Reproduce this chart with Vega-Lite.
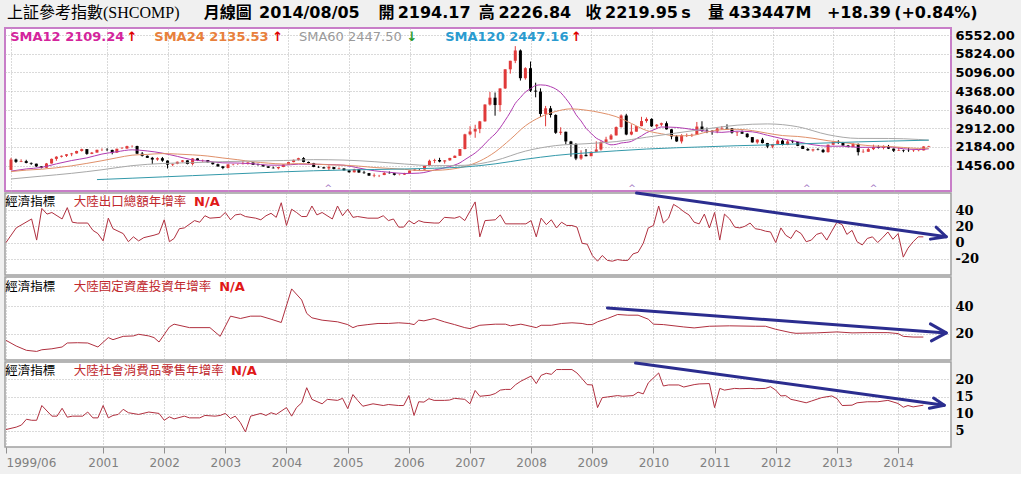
{
"$schema":"https://vega.github.io/schema/vega-lite/v6.json",
"background":"#f0f0f0",
"padding":{"left":3,"top":4,"right":5,"bottom":5},
"spacing":2,
"bounds":"flush",
"config":{"font":"DejaVu Sans","axis":{"gridColor":"#b4b4b4","gridDash":[1,2],"gridWidth":1,"domain":false,"ticks":false},"view":{"fill":"#ffffff","stroke":"#a0a0a0","strokeWidth":1.5}},
"datasets":{
"k":[
{"d":"1999-06","o":1283,"h":1756,"l":1281,"c":1690},{"d":"1999-07","o":1690,"h":1725,"l":1558,"c":1601},{"d":"1999-08","o":1601,"h":1700,"l":1589,"c":1627},{"d":"1999-09","o":1627,"h":1680,"l":1540,"c":1557},{"d":"1999-10","o":1557,"h":1575,"l":1480,"c":1527},{"d":"1999-11","o":1527,"h":1530,"l":1400,"c":1422},{"d":"1999-12","o":1422,"h":1425,"l":1341,"c":1367},
{"d":"2000-01","o":1367,"h":1555,"l":1361,"c":1535},{"d":"2000-02","o":1535,"h":1730,"l":1530,"c":1715},{"d":"2000-03","o":1715,"h":1820,"l":1640,"c":1800},{"d":"2000-04","o":1800,"h":1850,"l":1770,"c":1836},{"d":"2000-05","o":1836,"h":1900,"l":1790,"c":1895},{"d":"2000-06","o":1895,"h":1950,"l":1820,"c":1928},{"d":"2000-07","o":1928,"h":2035,"l":1920,"c":2023},{"d":"2000-08","o":2023,"h":2114,"l":2000,"c":2097},{"d":"2000-09","o":2097,"h":2100,"l":1874,"c":1911},{"d":"2000-10","o":1911,"h":1985,"l":1900,"c":1961},{"d":"2000-11","o":1961,"h":2075,"l":1960,"c":2070},{"d":"2000-12","o":2070,"h":2125,"l":2020,"c":2073},
{"d":"2001-01","o":2073,"h":2132,"l":2020,"c":2065},{"d":"2001-02","o":2065,"h":2075,"l":1893,"c":1960},{"d":"2001-03","o":1960,"h":2112,"l":1950,"c":2112},{"d":"2001-04","o":2112,"h":2180,"l":2100,"c":2120},{"d":"2001-05","o":2120,"h":2230,"l":2110,"c":2214},{"d":"2001-06","o":2214,"h":2245,"l":2170,"c":2218},{"d":"2001-07","o":2218,"h":2230,"l":1900,"c":1920},{"d":"2001-08","o":1920,"h":1985,"l":1806,"c":1834},{"d":"2001-09","o":1834,"h":1850,"l":1750,"c":1756},{"d":"2001-10","o":1756,"h":1792,"l":1514,"c":1689},{"d":"2001-11","o":1689,"h":1776,"l":1640,"c":1742},{"d":"2001-12","o":1742,"h":1790,"l":1600,"c":1646},
{"d":"2002-01","o":1646,"h":1660,"l":1339,"c":1491},{"d":"2002-02","o":1491,"h":1530,"l":1430,"c":1524},{"d":"2002-03","o":1524,"h":1610,"l":1505,"c":1603},{"d":"2002-04","o":1603,"h":1670,"l":1570,"c":1656},{"d":"2002-05","o":1656,"h":1660,"l":1500,"c":1515},{"d":"2002-06","o":1515,"h":1748,"l":1460,"c":1732},{"d":"2002-07","o":1732,"h":1740,"l":1630,"c":1663},{"d":"2002-08","o":1663,"h":1690,"l":1600,"c":1668},{"d":"2002-09","o":1668,"h":1672,"l":1570,"c":1581},{"d":"2002-10","o":1581,"h":1590,"l":1490,"c":1507},{"d":"2002-11","o":1507,"h":1530,"l":1410,"c":1421},{"d":"2002-12","o":1421,"h":1440,"l":1311,"c":1358},
{"d":"2003-01","o":1358,"h":1500,"l":1340,"c":1500},{"d":"2003-02","o":1500,"h":1520,"l":1460,"c":1511},{"d":"2003-03","o":1511,"h":1530,"l":1480,"c":1511},{"d":"2003-04","o":1511,"h":1650,"l":1500,"c":1521},{"d":"2003-05","o":1521,"h":1580,"l":1490,"c":1576},{"d":"2003-06","o":1576,"h":1580,"l":1480,"c":1487},{"d":"2003-07","o":1487,"h":1530,"l":1450,"c":1477},{"d":"2003-08","o":1477,"h":1490,"l":1410,"c":1421},{"d":"2003-09","o":1421,"h":1430,"l":1360,"c":1367},{"d":"2003-10","o":1367,"h":1410,"l":1340,"c":1349},{"d":"2003-11","o":1349,"h":1400,"l":1307,"c":1398},{"d":"2003-12","o":1398,"h":1500,"l":1390,"c":1497},
{"d":"2004-01","o":1497,"h":1595,"l":1495,"c":1590},{"d":"2004-02","o":1590,"h":1690,"l":1580,"c":1675},{"d":"2004-03","o":1675,"h":1760,"l":1650,"c":1742},{"d":"2004-04","o":1742,"h":1783,"l":1580,"c":1595},{"d":"2004-05","o":1595,"h":1610,"l":1530,"c":1555},{"d":"2004-06","o":1555,"h":1560,"l":1390,"c":1400},{"d":"2004-07","o":1400,"h":1440,"l":1360,"c":1386},{"d":"2004-08","o":1386,"h":1400,"l":1340,"c":1342},{"d":"2004-09","o":1342,"h":1460,"l":1260,"c":1396},{"d":"2004-10","o":1396,"h":1400,"l":1300,"c":1320},{"d":"2004-11","o":1320,"h":1380,"l":1300,"c":1340},{"d":"2004-12","o":1340,"h":1345,"l":1259,"c":1266},
{"d":"2005-01","o":1266,"h":1270,"l":1180,"c":1191},{"d":"2005-02","o":1191,"h":1330,"l":1185,"c":1306},{"d":"2005-03","o":1306,"h":1310,"l":1170,"c":1181},{"d":"2005-04","o":1181,"h":1250,"l":1130,"c":1159},{"d":"2005-05","o":1159,"h":1165,"l":1050,"c":1060},{"d":"2005-06","o":1060,"h":1146,"l":998,"c":1080},{"d":"2005-07","o":1080,"h":1090,"l":1004,"c":1083},{"d":"2005-08","o":1083,"h":1200,"l":1080,"c":1162},{"d":"2005-09","o":1162,"h":1223,"l":1140,"c":1155},{"d":"2005-10","o":1155,"h":1160,"l":1067,"c":1092},{"d":"2005-11","o":1092,"h":1105,"l":1074,"c":1099},{"d":"2005-12","o":1099,"h":1170,"l":1090,"c":1161},
{"d":"2006-01","o":1161,"h":1260,"l":1160,"c":1258},{"d":"2006-02","o":1258,"h":1310,"l":1240,"c":1299},{"d":"2006-03","o":1299,"h":1310,"l":1260,"c":1298},{"d":"2006-04","o":1298,"h":1445,"l":1295,"c":1440},{"d":"2006-05","o":1440,"h":1685,"l":1430,"c":1641},{"d":"2006-06","o":1641,"h":1720,"l":1550,"c":1672},{"d":"2006-07","o":1672,"h":1757,"l":1580,"c":1612},{"d":"2006-08","o":1612,"h":1660,"l":1530,"c":1658},{"d":"2006-09","o":1658,"h":1755,"l":1640,"c":1752},{"d":"2006-10","o":1752,"h":1850,"l":1750,"c":1837},{"d":"2006-11","o":1837,"h":2100,"l":1830,"c":2099},{"d":"2006-12","o":2099,"h":2698,"l":2090,"c":2675},
{"d":"2007-01","o":2675,"h":2995,"l":2630,"c":2786},{"d":"2007-02","o":2786,"h":3050,"l":2541,"c":2881},{"d":"2007-03","o":2881,"h":3200,"l":2720,"c":3183},{"d":"2007-04","o":3183,"h":3850,"l":3170,"c":3841},{"d":"2007-05","o":3841,"h":4335,"l":3800,"c":4109},{"d":"2007-06","o":4109,"h":4312,"l":3404,"c":3820},{"d":"2007-07","o":3820,"h":4471,"l":3564,"c":4471},{"d":"2007-08","o":4471,"h":5219,"l":4450,"c":5219},{"d":"2007-09","o":5219,"h":5552,"l":5050,"c":5552},{"d":"2007-10","o":5552,"h":6124,"l":5460,"c":5955},{"d":"2007-11","o":5955,"h":5995,"l":4778,"c":4871},{"d":"2007-12","o":4871,"h":5300,"l":4813,"c":5262},
{"d":"2008-01","o":5262,"h":5522,"l":4330,"c":4383},{"d":"2008-02","o":4383,"h":4695,"l":4123,"c":4348},{"d":"2008-03","o":4348,"h":4473,"l":3358,"c":3473},{"d":"2008-04","o":3473,"h":3786,"l":2990,"c":3693},{"d":"2008-05","o":3693,"h":3786,"l":3333,"c":3433},{"d":"2008-06","o":3433,"h":3459,"l":2693,"c":2736},{"d":"2008-07","o":2736,"h":2952,"l":2654,"c":2776},{"d":"2008-08","o":2776,"h":2781,"l":2284,"c":2397},{"d":"2008-09","o":2397,"h":2420,"l":1802,"c":2293},{"d":"2008-10","o":2293,"h":2333,"l":1665,"c":1729},{"d":"2008-11","o":1729,"h":2051,"l":1678,"c":1872},{"d":"2008-12","o":1872,"h":2100,"l":1814,"c":1821},
{"d":"2009-01","o":1821,"h":2003,"l":1814,"c":1991},{"d":"2009-02","o":1991,"h":2402,"l":1990,"c":2082},{"d":"2009-03","o":2082,"h":2403,"l":2037,"c":2373},{"d":"2009-04","o":2373,"h":2580,"l":2340,"c":2477},{"d":"2009-05","o":2477,"h":2689,"l":2460,"c":2633},{"d":"2009-06","o":2633,"h":2983,"l":2630,"c":2959},{"d":"2009-07","o":2959,"h":3455,"l":2940,"c":3412},{"d":"2009-08","o":3412,"h":3478,"l":2639,"c":2668},{"d":"2009-09","o":2668,"h":3068,"l":2639,"c":2779},{"d":"2009-10","o":2779,"h":3000,"l":2780,"c":2996},{"d":"2009-11","o":2996,"h":3361,"l":2990,"c":3195},{"d":"2009-12","o":3195,"h":3338,"l":3130,"c":3277},
{"d":"2010-01","o":3277,"h":3306,"l":2963,"c":2989},{"d":"2010-02","o":2989,"h":3080,"l":2890,"c":3052},{"d":"2010-03","o":3052,"h":3133,"l":2990,"c":3110},{"d":"2010-04","o":3110,"h":3181,"l":2861,"c":2871},{"d":"2010-05","o":2871,"h":2880,"l":2481,"c":2593},{"d":"2010-06","o":2593,"h":2640,"l":2382,"c":2398},{"d":"2010-07","o":2398,"h":2680,"l":2319,"c":2638},{"d":"2010-08","o":2638,"h":2705,"l":2570,"c":2639},{"d":"2010-09","o":2639,"h":2700,"l":2573,"c":2656},{"d":"2010-10","o":2656,"h":3159,"l":2650,"c":2979},{"d":"2010-11","o":2979,"h":3186,"l":2772,"c":2820},{"d":"2010-12","o":2820,"h":2940,"l":2722,"c":2808},
{"d":"2011-01","o":2808,"h":2840,"l":2661,"c":2791},{"d":"2011-02","o":2791,"h":2945,"l":2720,"c":2906},{"d":"2011-03","o":2906,"h":3000,"l":2850,"c":2928},{"d":"2011-04","o":2928,"h":3067,"l":2890,"c":2912},{"d":"2011-05","o":2912,"h":2920,"l":2700,"c":2743},{"d":"2011-06","o":2743,"h":2788,"l":2610,"c":2762},{"d":"2011-07","o":2762,"h":2827,"l":2690,"c":2701},{"d":"2011-08","o":2701,"h":2720,"l":2540,"c":2568},{"d":"2011-09","o":2568,"h":2570,"l":2355,"c":2359},{"d":"2011-10","o":2359,"h":2478,"l":2307,"c":2469},{"d":"2011-11","o":2469,"h":2536,"l":2320,"c":2333},{"d":"2011-12","o":2333,"h":2340,"l":2134,"c":2199},
{"d":"2012-01","o":2199,"h":2300,"l":2132,"c":2292},{"d":"2012-02","o":2292,"h":2478,"l":2280,"c":2428},{"d":"2012-03","o":2428,"h":2478,"l":2242,"c":2263},{"d":"2012-04","o":2263,"h":2453,"l":2250,"c":2397},{"d":"2012-05","o":2397,"h":2461,"l":2331,"c":2373},{"d":"2012-06","o":2373,"h":2390,"l":2213,"c":2225},{"d":"2012-07","o":2225,"h":2230,"l":2100,"c":2103},{"d":"2012-08","o":2103,"h":2140,"l":2030,"c":2048},{"d":"2012-09","o":2048,"h":2110,"l":2000,"c":2086},{"d":"2012-10","o":2086,"h":2130,"l":2050,"c":2069},{"d":"2012-11","o":2069,"h":2110,"l":1949,"c":1980},{"d":"2012-12","o":1980,"h":2276,"l":1960,"c":2269},
{"d":"2013-01","o":2269,"h":2400,"l":2260,"c":2385},{"d":"2013-02","o":2385,"h":2444,"l":2300,"c":2366},{"d":"2013-03","o":2366,"h":2380,"l":2234,"c":2237},{"d":"2013-04","o":2237,"h":2260,"l":2163,"c":2178},{"d":"2013-05","o":2178,"h":2334,"l":2170,"c":2301},{"d":"2013-06","o":2301,"h":2314,"l":1849,"c":1979},{"d":"2013-07","o":1979,"h":2093,"l":1951,"c":1994},{"d":"2013-08","o":1994,"h":2150,"l":1990,"c":2098},{"d":"2013-09","o":2098,"h":2270,"l":2060,"c":2175},{"d":"2013-10","o":2175,"h":2242,"l":2120,"c":2142},{"d":"2013-11","o":2142,"h":2243,"l":2088,"c":2221},{"d":"2013-12","o":2221,"h":2260,"l":2100,"c":2116},
{"d":"2014-01","o":2116,"h":2120,"l":1984,"c":2033},{"d":"2014-02","o":2033,"h":2177,"l":2025,"c":2056},{"d":"2014-03","o":2056,"h":2080,"l":1975,"c":2033},{"d":"2014-04","o":2033,"h":2147,"l":1990,"c":2026},{"d":"2014-05","o":2026,"h":2062,"l":1990,"c":2039},{"d":"2014-06","o":2039,"h":2070,"l":2010,"c":2048},{"d":"2014-07","o":2048,"h":2210,"l":2044,"c":2201},{"d":"2014-08","o":2194,"h":2227,"l":2185,"c":2220}
],
"sma":[
{"d":"1999-06","s":"SMA12","v":1237},{"d":"1999-09","s":"SMA12","v":1322},{"d":"1999-12","s":"SMA12","v":1381},{"d":"2000-03","s":"SMA12","v":1520},{"d":"2000-06","s":"SMA12","v":1651},{"d":"2000-09","s":"SMA12","v":1755},{"d":"2000-12","s":"SMA12","v":1904},{"d":"2001-03","s":"SMA12","v":1994},{"d":"2001-06","s":"SMA12","v":2069},{"d":"2001-09","s":"SMA12","v":2025},{"d":"2001-12","s":"SMA12","v":1940},{"d":"2002-03","s":"SMA12","v":1813},{"d":"2002-06","s":"SMA12","v":1676},{"d":"2002-09","s":"SMA12","v":1626},{"d":"2002-12","s":"SMA12","v":1560},{"d":"2003-03","s":"SMA12","v":1552},{"d":"2003-06","s":"SMA12","v":1525},{"d":"2003-09","s":"SMA12","v":1471},{"d":"2003-12","s":"SMA12","v":1468},{"d":"2004-03","s":"SMA12","v":1508},{"d":"2004-06","s":"SMA12","v":1506},{"d":"2004-09","s":"SMA12","v":1494},{"d":"2004-12","s":"SMA12","v":1467},{"d":"2005-03","s":"SMA12","v":1357},{"d":"2005-06","s":"SMA12","v":1252},{"d":"2005-09","s":"SMA12","v":1192},{"d":"2005-12","s":"SMA12","v":1144},{"d":"2006-03","s":"SMA12","v":1159},{"d":"2006-06","s":"SMA12","v":1280},{"d":"2006-09","s":"SMA12","v":1415},{"d":"2006-10","s":"SMA12","v":1477},{"d":"2006-11","s":"SMA12","v":1561},{"d":"2006-12","s":"SMA12","v":1687},{"d":"2007-01","s":"SMA12","v":1814},{"d":"2007-02","s":"SMA12","v":1946},{"d":"2007-03","s":"SMA12","v":2103},{"d":"2007-04","s":"SMA12","v":2303},{"d":"2007-05","s":"SMA12","v":2509},{"d":"2007-06","s":"SMA12","v":2688},{"d":"2007-07","s":"SMA12","v":2926},{"d":"2007-08","s":"SMA12","v":3223},{"d":"2007-09","s":"SMA12","v":3539},{"d":"2007-10","s":"SMA12","v":3883},{"d":"2007-11","s":"SMA12","v":4114},{"d":"2007-12","s":"SMA12","v":4329},{"d":"2008-01","s":"SMA12","v":4462},{"d":"2008-02","s":"SMA12","v":4585},{"d":"2008-03","s":"SMA12","v":4609},{"d":"2008-04","s":"SMA12","v":4596},{"d":"2008-05","s":"SMA12","v":4540},{"d":"2008-06","s":"SMA12","v":4450},{"d":"2008-07","s":"SMA12","v":4308},{"d":"2008-08","s":"SMA12","v":4073},{"d":"2008-09","s":"SMA12","v":3802},{"d":"2008-10","s":"SMA12","v":3450},{"d":"2008-11","s":"SMA12","v":3200},{"d":"2008-12","s":"SMA12","v":2913},{"d":"2009-01","s":"SMA12","v":2714},{"d":"2009-02","s":"SMA12","v":2525},{"d":"2009-03","s":"SMA12","v":2433},{"d":"2009-04","s":"SMA12","v":2332},{"d":"2009-05","s":"SMA12","v":2265},{"d":"2009-06","s":"SMA12","v":2284},{"d":"2009-07","s":"SMA12","v":2337},{"d":"2009-08","s":"SMA12","v":2359},{"d":"2009-09","s":"SMA12","v":2400},{"d":"2009-10","s":"SMA12","v":2505},{"d":"2009-11","s":"SMA12","v":2616},{"d":"2009-12","s":"SMA12","v":2737},{"d":"2010-01","s":"SMA12","v":2820},{"d":"2010-02","s":"SMA12","v":2901},{"d":"2010-03","s":"SMA12","v":2962},{"d":"2010-06","s":"SMA12","v":2945},{"d":"2010-09","s":"SMA12","v":2868},{"d":"2010-12","s":"SMA12","v":2796},{"d":"2011-03","s":"SMA12","v":2752},{"d":"2011-06","s":"SMA12","v":2799},{"d":"2011-09","s":"SMA12","v":2773},{"d":"2011-12","s":"SMA12","v":2639},{"d":"2012-03","s":"SMA12","v":2502},{"d":"2012-06","s":"SMA12","v":2384},{"d":"2012-09","s":"SMA12","v":2268},{"d":"2012-12","s":"SMA12","v":2211},{"d":"2013-03","s":"SMA12","v":2212},{"d":"2013-06","s":"SMA12","v":2167},{"d":"2013-09","s":"SMA12","v":2169},{"d":"2013-12","s":"SMA12","v":2183},{"d":"2014-03","s":"SMA12","v":2111},{"d":"2014-06","s":"SMA12","v":2082},{"d":"2014-08","s":"SMA12","v":2109},
{"d":"1999-06","s":"SMA24","v":1219},{"d":"1999-09","s":"SMA24","v":1276},{"d":"1999-12","s":"SMA24","v":1310},{"d":"2000-03","s":"SMA24","v":1367},{"d":"2000-06","s":"SMA24","v":1444},{"d":"2000-09","s":"SMA24","v":1539},{"d":"2000-12","s":"SMA24","v":1643},{"d":"2001-03","s":"SMA24","v":1757},{"d":"2001-06","s":"SMA24","v":1860},{"d":"2001-09","s":"SMA24","v":1890},{"d":"2001-12","s":"SMA24","v":1922},{"d":"2002-03","s":"SMA24","v":1904},{"d":"2002-06","s":"SMA24","v":1873},{"d":"2002-09","s":"SMA24","v":1826},{"d":"2002-12","s":"SMA24","v":1750},{"d":"2003-03","s":"SMA24","v":1683},{"d":"2003-06","s":"SMA24","v":1601},{"d":"2003-09","s":"SMA24","v":1549},{"d":"2003-12","s":"SMA24","v":1514},{"d":"2004-03","s":"SMA24","v":1530},{"d":"2004-06","s":"SMA24","v":1516},{"d":"2004-09","s":"SMA24","v":1483},{"d":"2004-12","s":"SMA24","v":1468},{"d":"2005-03","s":"SMA24","v":1433},{"d":"2005-06","s":"SMA24","v":1379},{"d":"2005-09","s":"SMA24","v":1343},{"d":"2005-12","s":"SMA24","v":1306},{"d":"2006-03","s":"SMA24","v":1258},{"d":"2006-06","s":"SMA24","v":1266},{"d":"2006-09","s":"SMA24","v":1304},{"d":"2006-12","s":"SMA24","v":1416},{"d":"2007-03","s":"SMA24","v":1631},{"d":"2007-06","s":"SMA24","v":1984},{"d":"2007-09","s":"SMA24","v":2477},{"d":"2007-12","s":"SMA24","v":3008},{"d":"2008-03","s":"SMA24","v":3356},{"d":"2008-06","s":"SMA24","v":3569},{"d":"2008-09","s":"SMA24","v":3671},{"d":"2008-12","s":"SMA24","v":3621},{"d":"2009-03","s":"SMA24","v":3521},{"d":"2009-06","s":"SMA24","v":3367},{"d":"2009-09","s":"SMA24","v":3101},{"d":"2009-12","s":"SMA24","v":2825},{"d":"2010-03","s":"SMA24","v":2698},{"d":"2010-06","s":"SMA24","v":2615},{"d":"2010-09","s":"SMA24","v":2634},{"d":"2010-12","s":"SMA24","v":2767},{"d":"2011-03","s":"SMA24","v":2857},{"d":"2011-06","s":"SMA24","v":2872},{"d":"2011-09","s":"SMA24","v":2821},{"d":"2011-12","s":"SMA24","v":2718},{"d":"2012-03","s":"SMA24","v":2627},{"d":"2012-06","s":"SMA24","v":2592},{"d":"2012-09","s":"SMA24","v":2521},{"d":"2012-12","s":"SMA24","v":2425},{"d":"2013-03","s":"SMA24","v":2357},{"d":"2013-06","s":"SMA24","v":2276},{"d":"2013-09","s":"SMA24","v":2219},{"d":"2013-12","s":"SMA24","v":2197},{"d":"2014-03","s":"SMA24","v":2162},{"d":"2014-06","s":"SMA24","v":2125},{"d":"2014-08","s":"SMA24","v":2136},
{"d":"1999-06","s":"SMA60","v":930},{"d":"1999-12","s":"SMA60","v":1040},{"d":"2000-06","s":"SMA60","v":1150},{"d":"2000-12","s":"SMA60","v":1290},{"d":"2001-06","s":"SMA60","v":1451},{"d":"2001-12","s":"SMA60","v":1535},{"d":"2002-06","s":"SMA60","v":1567},{"d":"2002-12","s":"SMA60","v":1607},{"d":"2003-06","s":"SMA60","v":1632},{"d":"2003-12","s":"SMA60","v":1651},{"d":"2004-06","s":"SMA60","v":1685},{"d":"2004-12","s":"SMA60","v":1668},{"d":"2005-06","s":"SMA60","v":1606},{"d":"2005-12","s":"SMA60","v":1516},{"d":"2006-06","s":"SMA60","v":1448},{"d":"2006-12","s":"SMA60","v":1465},{"d":"2007-06","s":"SMA60","v":1650},{"d":"2007-12","s":"SMA60","v":2019},{"d":"2008-06","s":"SMA60","v":2235},{"d":"2008-12","s":"SMA60","v":2308},{"d":"2009-06","s":"SMA60","v":2391},{"d":"2009-12","s":"SMA60","v":2562},{"d":"2010-06","s":"SMA60","v":2729},{"d":"2010-12","s":"SMA60","v":2892},{"d":"2011-06","s":"SMA60","v":3033},{"d":"2011-12","s":"SMA60","v":3083},{"d":"2012-06","s":"SMA60","v":2972},{"d":"2012-12","s":"SMA60","v":2659},{"d":"2013-06","s":"SMA60","v":2516},{"d":"2013-12","s":"SMA60","v":2513},{"d":"2014-06","s":"SMA60","v":2475},{"d":"2014-08","s":"SMA60","v":2448},
{"d":"2000-11","s":"SMA120","v":905},{"d":"2001-06","s":"SMA120","v":960},{"d":"2001-12","s":"SMA120","v":1010},{"d":"2002-06","s":"SMA120","v":1060},{"d":"2002-12","s":"SMA120","v":1110},{"d":"2003-06","s":"SMA120","v":1160},{"d":"2003-12","s":"SMA120","v":1210},{"d":"2004-06","s":"SMA120","v":1250},{"d":"2004-12","s":"SMA120","v":1280},{"d":"2005-06","s":"SMA120","v":1300},{"d":"2005-12","s":"SMA120","v":1320},{"d":"2006-06","s":"SMA120","v":1350},{"d":"2006-12","s":"SMA120","v":1400},{"d":"2007-06","s":"SMA120","v":1520},{"d":"2007-12","s":"SMA120","v":1700},{"d":"2008-06","s":"SMA120","v":1850},{"d":"2008-12","s":"SMA120","v":1950},{"d":"2009-06","s":"SMA120","v":2030},{"d":"2009-12","s":"SMA120","v":2100},{"d":"2010-06","s":"SMA120","v":2150},{"d":"2010-12","s":"SMA120","v":2190},{"d":"2011-06","s":"SMA120","v":2230},{"d":"2011-12","s":"SMA120","v":2260},{"d":"2012-06","s":"SMA120","v":2300},{"d":"2012-12","s":"SMA120","v":2340},{"d":"2013-06","s":"SMA120","v":2380},{"d":"2013-12","s":"SMA120","v":2410},{"d":"2014-08","s":"SMA120","v":2447}
],
"smaLab":[{"s":"SMA12","t":"SMA12 2109.24","d":"1999-05-27","v":6482},{"s":"SMA24","t":"SMA24 2135.53","d":"2001-10-13","v":6482},{"s":"SMA60","t":"SMA60 2447.50","d":"2004-03-04","v":6482},{"s":"SMA120","t":"SMA120 2447.16","d":"2006-08-04","v":6482}],
"smaArr":[{"dir":"up","t":"↑","d":"2001-04-28","v":6482},{"dir":"up","t":"↑","d":"2003-09-25","v":6482},{"dir":"down","t":"↓","d":"2005-12-13","v":6482},{"dir":"up","t":"↑","d":"2008-09-01","v":6482}],
"hdr1":[{"t":"上証參考指數(SHCOMP)","d":"1999-05-08","v":7420}],
"hdr2":[{"t":"月線圖","d":"2002-08-07","v":7420},{"t":"2014/08/05","d":"2003-07-07","v":7420},{"t":"開","d":"2005-06-28","v":7420},{"t":"2194.17","d":"2005-10-21","v":7420},{"t":"高","d":"2007-02-23","v":7420},{"t":"2226.84","d":"2007-06-21","v":7420},{"t":"收","d":"2008-11-28","v":7420},{"t":"2219.95","d":"2009-03-26","v":7420},{"t":"s","d":"2010-06-29","v":7420},{"t":"量","d":"2010-12-08","v":7420},{"t":"433447M","d":"2011-04-11","v":7420},{"t":"+18.39","d":"2012-11-24","v":7420},{"t":"(+0.84%)","d":"2014-01-04","v":7420}],
"mk":[{"d":"2004-08-28","v":560},{"d":"2009-09-04","v":560},{"d":"2012-07-25","v":560},{"d":"2013-09-01","v":560}],
"labs":[{"p":2,"k":"cat","t":"經濟指標","d":"1999-05-27","v":50.3},{"p":2,"k":"name","t":"大陸出口總額年增率","d":"2000-07-10","v":50.3},{"p":2,"k":"na","t":"N/A","d":"2002-06-28","v":50.3},
{"p":3,"k":"cat","t":"經濟指標","d":"1999-05-27","v":54},{"p":3,"k":"name","t":"大陸固定資產投資年增率","d":"2000-07-10","v":54},{"p":3,"k":"na","t":"N/A","d":"2002-11-25","v":54},
{"p":4,"k":"cat","t":"經濟指標","d":"1999-05-27","v":22.5},{"p":4,"k":"name","t":"大陸社會消費品零售年增率","d":"2000-07-10","v":22.5},{"p":4,"k":"na","t":"N/A","d":"2003-02-04","v":22.5}],
"tr":[{"p":2,"seg":"a","d":"2009-09-22","v":61},{"p":2,"seg":"a","d":"2014-10-16","v":7.1},{"p":2,"seg":"b","d":"2014-08-16","v":19},{"p":2,"seg":"b","d":"2014-10-16","v":7.1},{"p":2,"seg":"b","d":"2014-07-13","v":4.2},
{"p":3,"seg":"a","d":"2009-04-01","v":38.6},{"p":3,"seg":"a","d":"2014-10-16","v":20.6},{"p":3,"seg":"b","d":"2014-07-13","v":27.1},{"p":3,"seg":"b","d":"2014-10-16","v":20.6},{"p":3,"seg":"b","d":"2014-07-19","v":14.8},
{"p":4,"seg":"a","d":"2009-09-16","v":24.8},{"p":4,"seg":"a","d":"2014-10-04","v":12.5},{"p":4,"seg":"b","d":"2014-08-01","v":14.6},{"p":4,"seg":"b","d":"2014-10-04","v":12.5},{"p":4,"seg":"b","d":"2014-07-07","v":11.6}],
"exp":[{"d":"1999-06","v":0},{"d":"1999-08","v":18},{"d":"1999-11","v":29},{"d":"1999-12","v":3},{"d":"2000-01","v":42},{"d":"2000-02","v":35},{"d":"2000-03","v":37},{"d":"2000-05","v":29},{"d":"2000-06","v":43},{"d":"2000-07","v":25},{"d":"2000-08","v":24},{"d":"2000-10","v":24},{"d":"2000-11","v":15},{"d":"2000-12","v":11},{"d":"2001-01","v":2},{"d":"2001-02","v":30},{"d":"2001-03","v":17},{"d":"2001-05","v":11},{"d":"2001-06","v":1},{"d":"2001-07","v":7},{"d":"2001-08","v":2},{"d":"2001-09","v":6},{"d":"2001-11","v":9},{"d":"2001-12","v":11},{"d":"2002-01","v":28},{"d":"2002-02","v":1},{"d":"2002-03","v":5},{"d":"2002-04","v":17},{"d":"2002-05","v":18},{"d":"2002-07","v":27},{"d":"2002-08","v":25},{"d":"2002-09","v":33},{"d":"2002-10","v":30},{"d":"2002-12","v":31},{"d":"2003-01","v":37},{"d":"2003-02","v":28},{"d":"2003-03","v":34},{"d":"2003-04","v":35},{"d":"2003-05","v":32},{"d":"2003-07","v":30},{"d":"2003-08","v":28},{"d":"2003-09","v":33},{"d":"2003-10","v":36},{"d":"2003-11","v":31},{"d":"2003-12","v":49},{"d":"2004-01","v":21},{"d":"2004-02","v":41},{"d":"2004-03","v":37},{"d":"2004-04","v":32},{"d":"2004-05","v":32},{"d":"2004-06","v":45},{"d":"2004-07","v":34},{"d":"2004-08","v":37},{"d":"2004-10","v":29},{"d":"2004-11","v":45},{"d":"2004-12","v":33},{"d":"2005-01","v":41},{"d":"2005-02","v":31},{"d":"2005-03","v":32},{"d":"2005-05","v":30},{"d":"2005-07","v":30},{"d":"2005-08","v":33},{"d":"2005-09","v":27},{"d":"2005-10","v":29},{"d":"2005-11","v":19},{"d":"2005-12","v":19},{"d":"2006-01","v":27},{"d":"2006-02","v":23},{"d":"2006-03","v":27},{"d":"2006-04","v":25},{"d":"2006-06","v":24},{"d":"2006-07","v":24},{"d":"2006-08","v":31},{"d":"2006-10","v":30},{"d":"2006-11","v":32},{"d":"2006-12","v":27},{"d":"2007-02","v":50},{"d":"2007-03","v":7},{"d":"2007-04","v":27},{"d":"2007-06","v":28},{"d":"2007-07","v":34},{"d":"2007-08","v":23},{"d":"2007-11","v":23},{"d":"2007-12","v":23},{"d":"2008-01","v":27},{"d":"2008-02","v":7},{"d":"2008-03","v":30},{"d":"2008-04","v":22},{"d":"2008-05","v":28},{"d":"2008-06","v":18},{"d":"2008-07","v":25},{"d":"2008-08","v":21},{"d":"2008-09","v":21},{"d":"2008-10","v":19},{"d":"2008-11","v":-1},{"d":"2008-12","v":-2},{"d":"2009-01","v":-16},{"d":"2009-02","v":-23},{"d":"2009-03","v":-16},{"d":"2009-04","v":-22},{"d":"2009-05","v":-23},{"d":"2009-06","v":-21},{"d":"2009-07","v":-22},{"d":"2009-08","v":-22},{"d":"2009-09","v":-14},{"d":"2009-10","v":-12},{"d":"2009-11","v":-1},{"d":"2009-12","v":18},{"d":"2010-01","v":21},{"d":"2010-02","v":45},{"d":"2010-03","v":24},{"d":"2010-04","v":30},{"d":"2010-05","v":47},{"d":"2010-06","v":43},{"d":"2010-07","v":38},{"d":"2010-08","v":34},{"d":"2010-09","v":25},{"d":"2010-10","v":23},{"d":"2010-11","v":35},{"d":"2010-12","v":18},{"d":"2011-01","v":37},{"d":"2011-02","v":3},{"d":"2011-03","v":35},{"d":"2011-04","v":29},{"d":"2011-05","v":19},{"d":"2011-06","v":18},{"d":"2011-07","v":20},{"d":"2011-08","v":24},{"d":"2011-09","v":17},{"d":"2011-10","v":16},{"d":"2011-11","v":14},{"d":"2011-12","v":13},{"d":"2012-01","v":0},{"d":"2012-02","v":18},{"d":"2012-03","v":9},{"d":"2012-04","v":5},{"d":"2012-05","v":15},{"d":"2012-06","v":11},{"d":"2012-07","v":1},{"d":"2012-08","v":3},{"d":"2012-09","v":10},{"d":"2012-10","v":12},{"d":"2012-11","v":3},{"d":"2012-12","v":14},{"d":"2013-01","v":25},{"d":"2013-02","v":22},{"d":"2013-03","v":10},{"d":"2013-04","v":15},{"d":"2013-05","v":1},{"d":"2013-06","v":-3},{"d":"2013-07","v":5},{"d":"2013-08","v":7},{"d":"2013-09","v":0},{"d":"2013-10","v":6},{"d":"2013-11","v":13},{"d":"2013-12","v":4},{"d":"2014-01","v":11},{"d":"2014-02","v":-18},{"d":"2014-03","v":-7},{"d":"2014-04","v":1},{"d":"2014-05","v":7},{"d":"2014-06","v":7}],
"fai":[{"d":"1999-06","v":15.2},{"d":"1999-08","v":11.1},{"d":"1999-10","v":8},{"d":"1999-12","v":7.2},{"d":"2000-01","v":8.4},{"d":"2000-03","v":9.1},{"d":"2000-05","v":10.4},{"d":"2000-06","v":13.3},{"d":"2000-08","v":13.5},{"d":"2000-10","v":13.3},{"d":"2000-12","v":10.4},{"d":"2001-02","v":17.2},{"d":"2001-03","v":15.7},{"d":"2001-05","v":18.1},{"d":"2001-07","v":18.4},{"d":"2001-08","v":19.6},{"d":"2001-10","v":18.4},{"d":"2001-11","v":17.2},{"d":"2001-12","v":14},{"d":"2002-02","v":24.9},{"d":"2002-03","v":26.9},{"d":"2002-06","v":24.4},{"d":"2002-10","v":24.4},{"d":"2002-12","v":18.1},{"d":"2003-02","v":32.7},{"d":"2003-04","v":31},{"d":"2003-06","v":32.7},{"d":"2003-08","v":32.7},{"d":"2003-10","v":30.5},{"d":"2003-12","v":28.1},{"d":"2004-02","v":52.4},{"d":"2004-04","v":44.4},{"d":"2004-05","v":34.7},{"d":"2004-06","v":31.5},{"d":"2004-08","v":29.8},{"d":"2004-11","v":28.6},{"d":"2005-01","v":26.6},{"d":"2005-02","v":24.4},{"d":"2005-03","v":25.7},{"d":"2005-05","v":26.6},{"d":"2005-07","v":27.4},{"d":"2005-09","v":27.4},{"d":"2005-11","v":27.9},{"d":"2006-01","v":27.4},{"d":"2006-02","v":26.6},{"d":"2006-03","v":29.8},{"d":"2006-04","v":29.3},{"d":"2006-06","v":31},{"d":"2006-08","v":28.6},{"d":"2006-10","v":26.6},{"d":"2006-12","v":24.4},{"d":"2007-01","v":23.7},{"d":"2007-03","v":26.1},{"d":"2007-06","v":26.9},{"d":"2007-08","v":26.9},{"d":"2007-09","v":25.7},{"d":"2007-11","v":26.9},{"d":"2007-12","v":26.1},{"d":"2008-02","v":24.4},{"d":"2008-03","v":26.1},{"d":"2008-05","v":26.1},{"d":"2008-07","v":27.4},{"d":"2008-09","v":27.9},{"d":"2008-11","v":27.4},{"d":"2008-12","v":26.6},{"d":"2009-01","v":26.6},{"d":"2009-02","v":28.6},{"d":"2009-04","v":31},{"d":"2009-06","v":33.9},{"d":"2009-08","v":33.4},{"d":"2009-10","v":33.4},{"d":"2009-12","v":30.5},{"d":"2010-01","v":26.9},{"d":"2010-03","v":26.6},{"d":"2010-07","v":24.9},{"d":"2010-09","v":24.2},{"d":"2010-12","v":25.4},{"d":"2011-04","v":25.7},{"d":"2011-09","v":25.4},{"d":"2011-11","v":25.4},{"d":"2012-01","v":23.2},{"d":"2012-04","v":20.8},{"d":"2012-05","v":20.3},{"d":"2012-09","v":20.6},{"d":"2013-01","v":21.3},{"d":"2013-04","v":20.6},{"d":"2013-07","v":20.8},{"d":"2013-11","v":20.8},{"d":"2014-01","v":20.1},{"d":"2014-02","v":18.1},{"d":"2014-04","v":17.6},{"d":"2014-06","v":17.6}],
"rs":[{"d":"1999-06","v":5.4},{"d":"1999-08","v":6.1},{"d":"1999-09","v":6.7},{"d":"1999-10","v":8.4},{"d":"1999-11","v":8.1},{"d":"1999-12","v":8.1},{"d":"2000-01","v":12.4},{"d":"2000-02","v":10.8},{"d":"2000-03","v":9.3},{"d":"2000-04","v":9.3},{"d":"2000-05","v":11.6},{"d":"2000-06","v":9.0},{"d":"2000-07","v":9.3},{"d":"2000-09","v":9.3},{"d":"2000-10","v":10.5},{"d":"2000-11","v":8.8},{"d":"2000-12","v":8.8},{"d":"2001-01","v":12.4},{"d":"2001-02","v":8.8},{"d":"2001-03","v":9.5},{"d":"2001-04","v":9.8},{"d":"2001-05","v":11.3},{"d":"2001-06","v":10.3},{"d":"2001-08","v":9.8},{"d":"2001-10","v":10.5},{"d":"2001-12","v":10.1},{"d":"2002-01","v":8.1},{"d":"2002-02","v":9.1},{"d":"2002-03","v":8.5},{"d":"2002-05","v":9.3},{"d":"2002-06","v":8.8},{"d":"2002-08","v":8.8},{"d":"2002-09","v":9.5},{"d":"2002-11","v":9.3},{"d":"2002-12","v":9.5},{"d":"2003-01","v":10.1},{"d":"2003-02","v":8.6},{"d":"2003-03","v":9.3},{"d":"2003-04","v":7.4},{"d":"2003-05","v":4.7},{"d":"2003-06","v":9.3},{"d":"2003-08","v":10.1},{"d":"2003-09","v":9.5},{"d":"2003-10","v":10.3},{"d":"2003-11","v":9.8},{"d":"2004-01","v":11.8},{"d":"2004-02","v":9.3},{"d":"2004-03","v":11.8},{"d":"2004-04","v":13.2},{"d":"2004-05","v":17.6},{"d":"2004-06","v":14.2},{"d":"2004-08","v":12.9},{"d":"2004-09","v":14.2},{"d":"2004-11","v":13.9},{"d":"2004-12","v":14.5},{"d":"2005-01","v":11.5},{"d":"2005-02","v":15.6},{"d":"2005-03","v":13.9},{"d":"2005-04","v":12.2},{"d":"2005-06","v":12.9},{"d":"2005-08","v":12.4},{"d":"2005-09","v":12.7},{"d":"2005-11","v":12.4},{"d":"2005-12","v":12.4},{"d":"2006-01","v":15.3},{"d":"2006-02","v":9.5},{"d":"2006-03","v":13.5},{"d":"2006-04","v":13.4},{"d":"2006-05","v":14.4},{"d":"2006-06","v":13.9},{"d":"2006-08","v":13.9},{"d":"2006-09","v":14.0},{"d":"2006-10","v":14.5},{"d":"2006-12","v":14.2},{"d":"2007-01","v":12.9},{"d":"2007-02","v":16.8},{"d":"2007-03","v":15.1},{"d":"2007-05","v":15.4},{"d":"2007-06","v":15.9},{"d":"2007-07","v":16.9},{"d":"2007-08","v":17.1},{"d":"2007-09","v":17.1},{"d":"2007-10","v":18.5},{"d":"2007-11","v":19.5},{"d":"2008-01","v":21.0},{"d":"2008-02","v":18.8},{"d":"2008-03","v":21.2},{"d":"2008-04","v":21.8},{"d":"2008-05","v":21.5},{"d":"2008-06","v":22.9},{"d":"2008-07","v":22.9},{"d":"2008-09","v":22.9},{"d":"2008-10","v":21.9},{"d":"2008-11","v":20.2},{"d":"2008-12","v":18.5},{"d":"2009-01","v":18.4},{"d":"2009-02","v":11.8},{"d":"2009-03","v":14.7},{"d":"2009-04","v":14.9},{"d":"2009-06","v":15.3},{"d":"2009-07","v":15.1},{"d":"2009-09","v":15.3},{"d":"2009-10","v":16.3},{"d":"2009-11","v":15.8},{"d":"2009-12","v":19.0},{"d":"2010-02","v":21.9},{"d":"2010-03","v":18.1},{"d":"2010-04","v":18.4},{"d":"2010-06","v":18.4},{"d":"2010-07","v":17.8},{"d":"2010-09","v":18.5},{"d":"2010-10","v":18.7},{"d":"2010-12","v":18.8},{"d":"2011-01","v":11.8},{"d":"2011-02","v":17.4},{"d":"2011-03","v":16.9},{"d":"2011-05","v":17.4},{"d":"2011-06","v":17.3},{"d":"2011-08","v":17.4},{"d":"2011-09","v":17.3},{"d":"2011-11","v":17.4},{"d":"2011-12","v":17.9},{"d":"2012-01","v":16.9},{"d":"2012-02","v":15.2},{"d":"2012-03","v":15.3},{"d":"2012-04","v":14.2},{"d":"2012-05","v":13.9},{"d":"2012-07","v":13.2},{"d":"2012-08","v":13.7},{"d":"2012-10","v":14.7},{"d":"2012-12","v":15.2},{"d":"2013-01","v":14.4},{"d":"2013-02","v":12.4},{"d":"2013-04","v":12.5},{"d":"2013-05","v":13.2},{"d":"2013-07","v":13.5},{"d":"2013-09","v":13.5},{"d":"2013-11","v":13.9},{"d":"2014-01","v":13.0},{"d":"2014-02","v":11.9},{"d":"2014-03","v":12.4},{"d":"2014-04","v":12.0},{"d":"2014-06","v":12.5}]
},
"vconcat":[
{"width":946,"height":163,
 "view":{"stroke":"#c87ec8","strokeWidth":2,"fill":"#ffffff"},
 "resolve":{"scale":{"color":"independent"}},
 "encoding":{
   "x":{"field":"d","type":"temporal","title":null,"scale":{"type":"utc","domain":[{"year":1999,"month":5,"date":26,"utc":true},{"year":2014,"month":11,"date":13,"utc":true}]},
        "axis":{"values":[{"year":1999,"month":6,"date":1,"utc":true},{"year":2001,"month":1,"date":1,"utc":true},{"year":2002,"month":1,"date":1,"utc":true},{"year":2003,"month":1,"date":1,"utc":true},{"year":2004,"month":1,"date":1,"utc":true},{"year":2005,"month":1,"date":1,"utc":true},{"year":2006,"month":1,"date":1,"utc":true},{"year":2007,"month":1,"date":1,"utc":true},{"year":2008,"month":1,"date":1,"utc":true},{"year":2009,"month":1,"date":1,"utc":true},{"year":2010,"month":1,"date":1,"utc":true},{"year":2011,"month":1,"date":1,"utc":true},{"year":2012,"month":1,"date":1,"utc":true},{"year":2013,"month":1,"date":1,"utc":true},{"year":2014,"month":1,"date":1,"utc":true}],"labels":false,"grid":true}},
   "y":{"field":"v","type":"quantitative","title":null,"scale":{"domain":[459,6834],"zero":false,"nice":false},
        "axis":{"orient":"right","values":[1456,2184,2912,3640,4368,5096,5824,6552],"format":".2f","labelFont":"DejaVu Sans","labelFontWeight":"bold","labelFontSize":13,"labelColor":"#000000","labelPadding":4,"grid":true}}},
 "layer":[
  {"data":{"name":"k"},"mark":{"type":"rule","strokeWidth":1},
   "encoding":{"y":{"field":"l","type":"quantitative","title":null},"y2":{"field":"h"},
    "color":{"condition":{"test":"datum.c >= datum.o","value":"#e03a3a"},"value":"#000000"}}},
  {"data":{"name":"k"},"mark":{"type":"bar","width":3},
   "encoding":{"y":{"field":"o","type":"quantitative","title":null},"y2":{"field":"c"},
    "color":{"condition":{"test":"datum.c >= datum.o","value":"#e03a3a"},"value":"#000000"}}},
  {"data":{"name":"sma"},"mark":{"type":"line","strokeWidth":1,"interpolate":"monotone"},
   "encoding":{"color":{"field":"s","type":"nominal","scale":{"domain":["SMA12","SMA24","SMA60","SMA120"],"range":["#b03ab0","#e0906a","#a8a8a8","#3399aa"]},"legend":null}}},
  {"data":{"name":"smaLab"},"transform":[{"filter":"datum.s != 'SMA60'"}],"mark":{"type":"text","align":"left","baseline":"middle","font":"DejaVu Sans","fontWeight":"bold","fontSize":13},
   "encoding":{"text":{"field":"t"},
    "color":{"field":"s","type":"nominal","scale":{"domain":["SMA12","SMA24","SMA60","SMA120"],"range":["#d4249c","#e8803c","#9a9a9a","#2a9bd0"]},"legend":null}}},
  {"data":{"name":"smaLab"},"transform":[{"filter":"datum.s == 'SMA60'"}],"mark":{"type":"text","align":"left","baseline":"middle","font":"DejaVu Sans","fontSize":13,"color":"#9a9a9a"},
   "encoding":{"text":{"field":"t"}}},
  {"data":{"name":"smaArr"},"mark":{"type":"text","align":"left","baseline":"middle","font":"DejaVu Sans","fontWeight":"bold","fontSize":13},
   "encoding":{"text":{"field":"t"},
    "color":{"condition":{"test":"datum.dir == 'up'","value":"#e00000"},"value":"#1e9a2a"}}},
  {"data":{"name":"mk"},"mark":{"type":"text","text":"^","fontSize":9,"color":"#a070c0","baseline":"middle"}},
  {"data":{"name":"hdr1"},"mark":{"type":"text","align":"left","baseline":"middle","font":"Liberation Serif, Noto Sans CJK TC","fontSize":16,"color":"#000000"},
   "encoding":{"text":{"field":"t"}}},
  {"data":{"name":"hdr2"},"mark":{"type":"text","align":"left","baseline":"middle","font":"DejaVu Sans, Noto Sans CJK TC","fontWeight":"bold","fontSize":16,"color":"#000000"},
   "encoding":{"text":{"field":"t"}}}
 ]},
{"width":946,"height":82,
 "encoding":{
   "x":{"field":"d","type":"temporal","title":null,"scale":{"type":"utc","domain":[{"year":1999,"month":5,"date":26,"utc":true},{"year":2014,"month":11,"date":13,"utc":true}]},
        "axis":{"values":[{"year":1999,"month":6,"date":1,"utc":true},{"year":2001,"month":1,"date":1,"utc":true},{"year":2002,"month":1,"date":1,"utc":true},{"year":2003,"month":1,"date":1,"utc":true},{"year":2004,"month":1,"date":1,"utc":true},{"year":2005,"month":1,"date":1,"utc":true},{"year":2006,"month":1,"date":1,"utc":true},{"year":2007,"month":1,"date":1,"utc":true},{"year":2008,"month":1,"date":1,"utc":true},{"year":2009,"month":1,"date":1,"utc":true},{"year":2010,"month":1,"date":1,"utc":true},{"year":2011,"month":1,"date":1,"utc":true},{"year":2012,"month":1,"date":1,"utc":true},{"year":2013,"month":1,"date":1,"utc":true},{"year":2014,"month":1,"date":1,"utc":true}],"labels":false,"grid":true}},
   "y":{"field":"v","type":"quantitative","title":null,"scale":{"domain":[-40,61],"zero":false,"nice":false},
        "axis":{"orient":"right","values":[-20,0,20,40],"labelExpr":"datum.value < 0 ? '-' + abs(datum.value) : '' + datum.value","labelFont":"DejaVu Serif","labelFontWeight":"bold","labelFontSize":13,"labelColor":"#000000","labelPadding":4,"grid":true}}},
 "layer":[
  {"data":{"name":"exp"},"mark":{"type":"line","color":"#b0303f","strokeWidth":1}},
  {"data":{"name":"tr"},"transform":[{"filter":"datum.p == 2"}],"mark":{"type":"line","color":"#2b2d8f","strokeWidth":3,"strokeCap":"round","strokeJoin":"round"},
   "encoding":{"detail":{"field":"seg"},"order":{"value":null}}},
  {"data":{"name":"labs"},"transform":[{"filter":"datum.p == 2 && datum.k != 'na'"}],"mark":{"type":"text","align":"left","baseline":"middle","font":"Noto Sans CJK TC","fontSize":12.5},
   "encoding":{"text":{"field":"t"},"color":{"field":"k","type":"nominal","scale":{"domain":["cat","name"],"range":["#000000","#c0282d"]},"legend":null}}},
  {"data":{"name":"labs"},"transform":[{"filter":"datum.p == 2 && datum.k == 'na'"}],"mark":{"type":"text","align":"left","baseline":"middle","font":"DejaVu Sans","fontWeight":"bold","fontSize":13,"color":"#e01818"},
   "encoding":{"text":{"field":"t"}}}
 ]},
{"width":946,"height":83,
 "encoding":{
   "x":{"field":"d","type":"temporal","title":null,"scale":{"type":"utc","domain":[{"year":1999,"month":5,"date":26,"utc":true},{"year":2014,"month":11,"date":13,"utc":true}]},
        "axis":{"values":[{"year":1999,"month":6,"date":1,"utc":true},{"year":2001,"month":1,"date":1,"utc":true},{"year":2002,"month":1,"date":1,"utc":true},{"year":2003,"month":1,"date":1,"utc":true},{"year":2004,"month":1,"date":1,"utc":true},{"year":2005,"month":1,"date":1,"utc":true},{"year":2006,"month":1,"date":1,"utc":true},{"year":2007,"month":1,"date":1,"utc":true},{"year":2008,"month":1,"date":1,"utc":true},{"year":2009,"month":1,"date":1,"utc":true},{"year":2010,"month":1,"date":1,"utc":true},{"year":2011,"month":1,"date":1,"utc":true},{"year":2012,"month":1,"date":1,"utc":true},{"year":2013,"month":1,"date":1,"utc":true},{"year":2014,"month":1,"date":1,"utc":true}],"labels":false,"grid":true}},
   "y":{"field":"v","type":"quantitative","title":null,"scale":{"domain":[1,61],"zero":false,"nice":false},
        "axis":{"orient":"right","values":[20,40],"labelFont":"DejaVu Serif","labelFontWeight":"bold","labelFontSize":13,"labelColor":"#000000","labelPadding":4,"grid":true}}},
 "layer":[
  {"data":{"name":"fai"},"mark":{"type":"line","color":"#b0303f","strokeWidth":1}},
  {"data":{"name":"tr"},"transform":[{"filter":"datum.p == 3"}],"mark":{"type":"line","color":"#2b2d8f","strokeWidth":3,"strokeCap":"round","strokeJoin":"round"},
   "encoding":{"detail":{"field":"seg"},"order":{"value":null}}},
  {"data":{"name":"labs"},"transform":[{"filter":"datum.p == 3 && datum.k != 'na'"}],"mark":{"type":"text","align":"left","baseline":"middle","font":"Noto Sans CJK TC","fontSize":12.5},
   "encoding":{"text":{"field":"t"},"color":{"field":"k","type":"nominal","scale":{"domain":["cat","name"],"range":["#000000","#c0282d"]},"legend":null}}},
  {"data":{"name":"labs"},"transform":[{"filter":"datum.p == 3 && datum.k == 'na'"}],"mark":{"type":"text","align":"left","baseline":"middle","font":"DejaVu Sans","fontWeight":"bold","fontSize":13,"color":"#e01818"},
   "encoding":{"text":{"field":"t"}}}
 ]},
{"width":946,"height":85,
 "encoding":{
   "x":{"field":"d","type":"temporal","title":null,"scale":{"type":"utc","domain":[{"year":1999,"month":5,"date":26,"utc":true},{"year":2014,"month":11,"date":13,"utc":true}]},
        "axis":{"values":[{"year":1999,"month":6,"date":1,"utc":true},{"year":2001,"month":1,"date":1,"utc":true},{"year":2002,"month":1,"date":1,"utc":true},{"year":2003,"month":1,"date":1,"utc":true},{"year":2004,"month":1,"date":1,"utc":true},{"year":2005,"month":1,"date":1,"utc":true},{"year":2006,"month":1,"date":1,"utc":true},{"year":2007,"month":1,"date":1,"utc":true},{"year":2008,"month":1,"date":1,"utc":true},{"year":2009,"month":1,"date":1,"utc":true},{"year":2010,"month":1,"date":1,"utc":true},{"year":2011,"month":1,"date":1,"utc":true},{"year":2012,"month":1,"date":1,"utc":true},{"year":2013,"month":1,"date":1,"utc":true},{"year":2014,"month":1,"date":1,"utc":true}],
          "labelExpr":"utcFormat(datum.value, '%Y') == '1999' ? '1999/06' : utcFormat(datum.value, '%Y')",
          "labelColor":"#808080","labelFont":"DejaVu Sans","labelFontSize":12,"labelPadding":4,"labelFlush":5,"labelOverlap":false,
          "ticks":true,"tickColor":"#909090","tickSize":6,"grid":true}},
   "y":{"field":"v","type":"quantitative","title":null,"scale":{"domain":[0.3,25.1],"zero":false,"nice":false},
        "axis":{"orient":"right","values":[5,10,15,20],"labelFont":"DejaVu Serif","labelFontWeight":"bold","labelFontSize":13,"labelColor":"#000000","labelPadding":4,"grid":true}}},
 "layer":[
  {"data":{"name":"rs"},"mark":{"type":"line","color":"#b0303f","strokeWidth":1}},
  {"data":{"name":"tr"},"transform":[{"filter":"datum.p == 4"}],"mark":{"type":"line","color":"#2b2d8f","strokeWidth":3,"strokeCap":"round","strokeJoin":"round"},
   "encoding":{"detail":{"field":"seg"},"order":{"value":null}}},
  {"data":{"name":"labs"},"transform":[{"filter":"datum.p == 4 && datum.k != 'na'"}],"mark":{"type":"text","align":"left","baseline":"middle","font":"Noto Sans CJK TC","fontSize":12.5},
   "encoding":{"text":{"field":"t"},"color":{"field":"k","type":"nominal","scale":{"domain":["cat","name"],"range":["#000000","#c0282d"]},"legend":null}}},
  {"data":{"name":"labs"},"transform":[{"filter":"datum.p == 4 && datum.k == 'na'"}],"mark":{"type":"text","align":"left","baseline":"middle","font":"DejaVu Sans","fontWeight":"bold","fontSize":13,"color":"#e01818"},
   "encoding":{"text":{"field":"t"}}}
 ]}
]
}
